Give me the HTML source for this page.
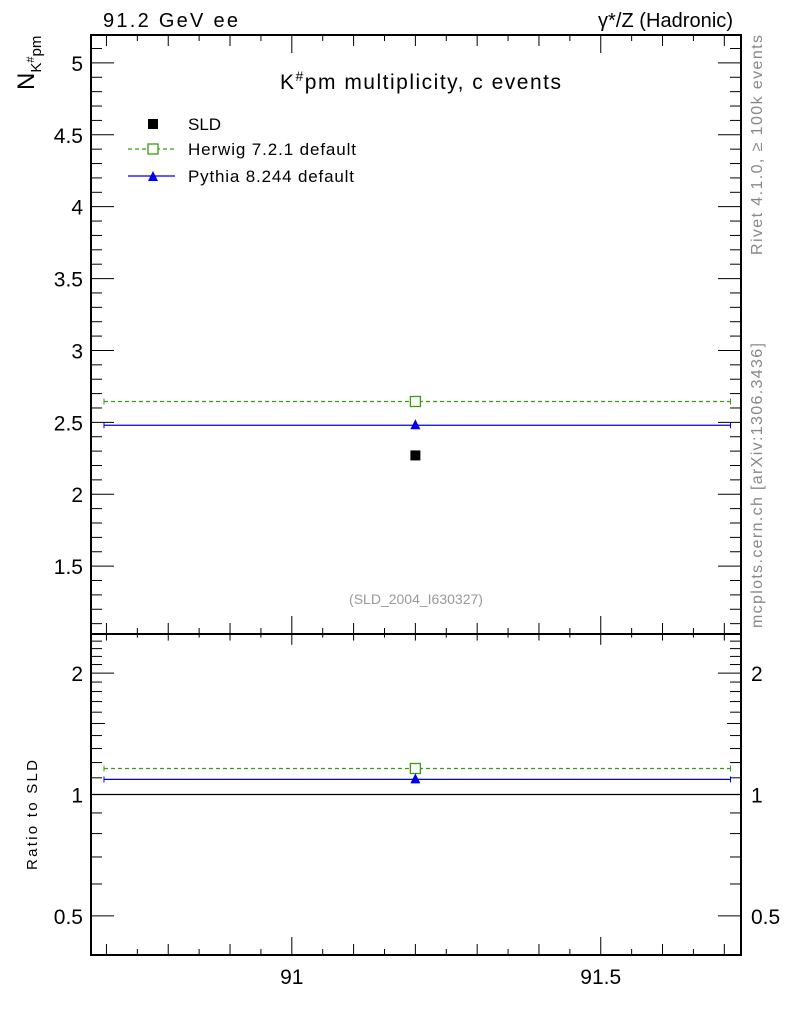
<!DOCTYPE html>
<html><head><meta charset="utf-8"><style>
body{margin:0;background:#fff}
svg{display:block;font-family:"Liberation Sans",sans-serif}
</style></head><body>
<svg id="c" width="786" height="1024" viewBox="0 0 786 1024">
<text x="103" y="27" font-size="20" textLength="135">91.2 GeV ee</text>
<text x="598" y="27" font-size="20" textLength="135">γ*/Z (Hadronic)</text>
<text x="280" y="89" font-size="21" textLength="281">K<tspan dy="-8" font-size="14">#</tspan><tspan dy="8">pm multiplicity, c events</tspan></text>
<text x="416" y="604" font-size="14" fill="#999" text-anchor="middle">(SLD_2004_I630327)</text>
<text transform="translate(762,255) rotate(-90)" font-size="16" fill="#888" textLength="220">Rivet 4.1.0, ≥ 100k events</text>
<text transform="translate(762,628) rotate(-90)" font-size="16" fill="#888" textLength="285">mcplots.cern.ch [arXiv:1306.3436]</text>
<text transform="translate(34,90) rotate(-90)" font-size="24">N<tspan dy="7" font-size="15">K</tspan><tspan dy="-7" font-size="11">#</tspan><tspan dy="7" font-size="15">pm</tspan></text>
<text transform="translate(37,870) rotate(-90)" font-size="15" textLength="110">Ratio to SLD</text>
<g>
<rect x="148" y="119" width="10" height="10" fill="#000"/>
<text x="188" y="130" font-size="17">SLD</text>
<line x1="128" y1="149" x2="175" y2="149" stroke="#3a9a10" stroke-width="1.3" stroke-dasharray="4,3"/>
<rect x="148" y="144" width="10" height="10" fill="#fff" stroke="#3a9a10" stroke-width="1.3"/>
<text x="188" y="155" font-size="17" textLength="168">Herwig 7.2.1 default</text>
<line x1="128" y1="176" x2="175" y2="176" stroke="#0000ee" stroke-width="1.3"/>
<polygon points="148,181 158,181 153,171" fill="#0000ee"/>
<text x="188" y="182" font-size="17" textLength="166">Pythia 8.244 default</text>
</g>
<g id="g"></g>
</svg>
<script>
const xCenters=[91.2];
const xLow=[90.696];
const xHigh=[91.71];
const sldVals=[2.27];
const herwigVals=[2.645];
const pythiaVals=[2.48];
const herwigRatio=[1.16];
const pythiaRatio=[1.09];
const mainTicks=["1.5","2","2.5","3","3.5","4","4.5","5"];
const ratioTicks=["0.5","1","2"];
const xTicks=["91","91.5"];

const L=91,R=741,T=35,M=634,B=955;
const X=v=>L+(v-90.675)*(R-L)/(91.727-90.675);
const Y=v=>T+(5.194-v)*(M-T)/(5.194-1.028);
const lg=Math.log2;
const YR=v=>M+(lg(2.5)-lg(v))*(B-M)/(lg(2.5)-lg(0.4));
const g=document.getElementById('g');
const NS='http://www.w3.org/2000/svg';
function el(t,a,p){const e=document.createElementNS(NS,t);for(const k in a)e.setAttribute(k,a[k]);(p||g).appendChild(e);return e;}
function ln(x1,y1,x2,y2,c,w,da){const e=el('line',{x1,y1,x2,y2,stroke:c||'#000','stroke-width':w||1});if(da)e.setAttribute('stroke-dasharray',da);return e;}
function tx(x,y,s,anc,sz){const e=el('text',{x,y,'font-size':sz||21,'text-anchor':anc||'end'});e.textContent=s;return e;}

let f1=el('rect',{x:L,y:T,width:R-L,height:M-T,fill:'none',stroke:'#000','stroke-width':2});


let f2=el('rect',{x:L,y:M,width:R-L,height:B-M,fill:'none',stroke:'#000','stroke-width':2});



for(let i=11;i<=51;i++){const v=i/10;const y=Y(v);if(y<T||y>M)continue;const maj=i%5==0;const l=maj?23:11;
ln(L,y,L+l,y);ln(R,y,R-l,y);}
mainTicks.forEach(s=>{const t=tx(L-8,Y(+s)+8,s);});
const rt=[0.5,0.6,0.7,0.8,0.9,1,1.1,1.2,1.3,1.4,1.5,1.6,1.7,1.8,1.9,2,2.1,2.2,2.3,2.4];
rt.forEach(v=>{const y=YR(v);const maj=(v==0.5||v==1||v==2);const l=maj?23:(v==1.5?14:11);ln(L,y,L+l,y);ln(R,y,R-l,y);});
ratioTicks.forEach(s=>{const t=tx(L-8,YR(+s)+8,s);
const t2=tx(R+10,YR(+s)+8,s,'start');});
for(let i=0;i<=21;i++){const v=90.7+i*0.05;const x=X(v);if(x>R)break;const r=Math.round(v*100);const maj=(r%50==0);const l=maj?18:(r%10==0?11:6);
ln(x,M,x,M-l);ln(x,T,x,T+l);ln(x,B,x,B-l);ln(x,M,x,M+l*0.6);}
xTicks.forEach(s=>{const t=tx(X(+s),B+29,s,'middle');});

ln(L,YR(1),R,YR(1),'#000',1.3);

const green='#3a9a10',blue='#0000ee';
xCenters.forEach((xc,i)=>{
 const x1=X(xLow[i]),x2=X(xHigh[i]),xm=X(xc);
 let y=Y(herwigVals[i]);
 let h=ln(x1,y,x2,y,green,1.3,'4,3');
 ln(x1,y-3,x1,y+3,green);ln(x2,y-3,x2,y+3,green);
 let hm=el('rect',{x:xm-5,y:y-5,width:10,height:10,fill:'#fff',stroke:green,'stroke-width':1.3});
 y=Y(pythiaVals[i]);
 let p=ln(x1,y,x2,y,blue,1.3);
 ln(x1,y-3,x1,y+3,blue);ln(x2,y-3,x2,y+3,blue);
 let pm=el('polygon',{points:`${xm-5},${y+4} ${xm+5},${y+4} ${xm},${y-6}`,fill:blue});
 y=Y(sldVals[i]);
 let s=el('rect',{x:xm-5,y:y-5,width:10,height:10,fill:'#000'});
 y=YR(herwigRatio[i]);
 let hr=ln(x1,y,x2,y,green,1.3,'4,3');
 ln(x1,y-3,x1,y+3,green);ln(x2,y-3,x2,y+3,green);
 let hrm=el('rect',{x:xm-5,y:y-5,width:10,height:10,fill:'#fff',stroke:green,'stroke-width':1.3});
 y=YR(pythiaRatio[i]);
 let pr=ln(x1,y,x2,y,blue,1.3);
 ln(x1,y-3,x1,y+3,blue);ln(x2,y-3,x2,y+3,blue);
 let prm=el('polygon',{points:`${xm-5},${y+4} ${xm+5},${y+4} ${xm},${y-6}`,fill:blue});
});
</script>
</body></html>
